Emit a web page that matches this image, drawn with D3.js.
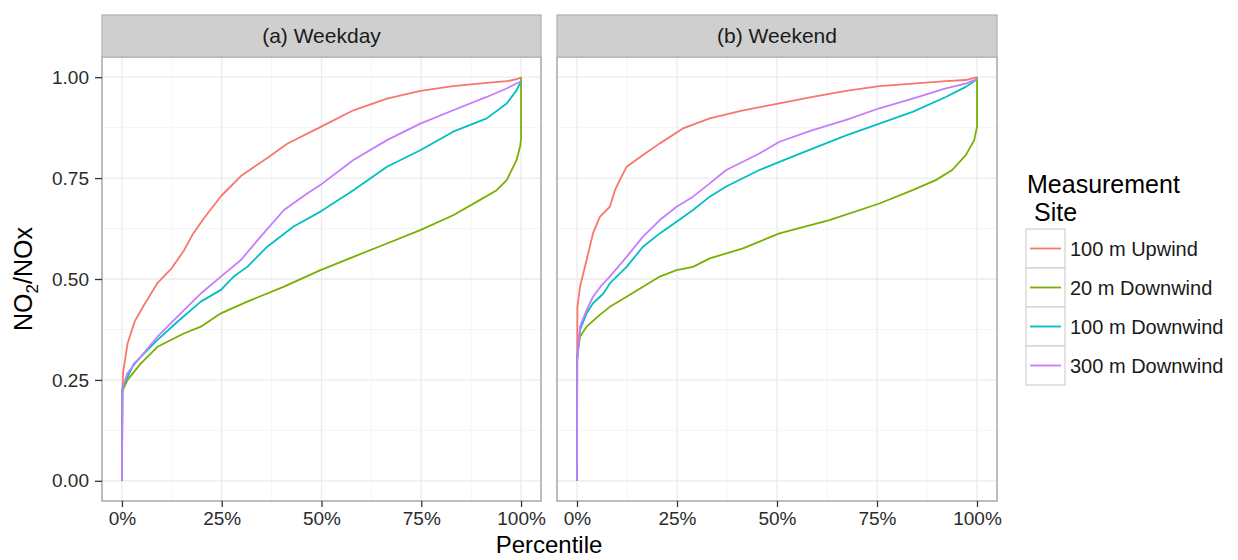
<!DOCTYPE html>
<html>
<head>
<meta charset="utf-8">
<script src="https://cdn.jsdelivr.net/npm/d3@7"></script>
<style>
  body { margin: 0; background: #fff; }
  text { font-family: "Liberation Sans", Arial, sans-serif; }
</style>
</head>
<body>
<script>
// sites and colours (ggplot default hues)
const sites = ["100 m Upwind", "20 m Downwind", "100 m Downwind", "300 m Downwind"];
const colors = ["#F8766D", "#7CAE00", "#00BFC4", "#C77CFF"];
const panelTitles = ["(a) Weekday", "(b) Weekend"];
const yTicks = [0, 0.25, 0.5, 0.75, 1];
const xTicks = [0, 0.25, 0.5, 0.75, 1];

// [percentile, NO2/NOx]
const wkdUpwind = [[0,0],[0.001,0.22],[0.003,0.27],[0.014,0.34],[0.032,0.395],[0.052,0.43],[0.089,0.49],[0.123,0.525],[0.155,0.57],[0.177,0.61],[0.205,0.65],[0.248,0.705],[0.298,0.755],[0.364,0.80],[0.414,0.835],[0.498,0.877],[0.58,0.918],[0.664,0.947],[0.748,0.966],[0.83,0.978],[0.914,0.986],[0.964,0.99],[0.99,0.995],[1,1]];
const wkd20 = [[0,0],[0.001,0.22],[0.002,0.225],[0.014,0.25],[0.0475,0.291],[0.089,0.332],[0.155,0.365],[0.1975,0.382],[0.248,0.415],[0.314,0.444],[0.406,0.481],[0.4975,0.522],[0.58,0.555],[0.664,0.588],[0.7475,0.621],[0.83,0.658],[0.8975,0.696],[0.939,0.72],[0.964,0.745],[0.989,0.795],[0.998,0.83],[1,0.85],[1,1]];
const wkd100 = [[0,0],[0.001,0.22],[0.002,0.233],[0.03,0.29],[0.089,0.349],[0.139,0.394],[0.1975,0.444],[0.248,0.473],[0.28,0.506],[0.314,0.53],[0.364,0.58],[0.43,0.63],[0.4975,0.667],[0.58,0.72],[0.664,0.778],[0.7475,0.819],[0.83,0.865],[0.914,0.898],[0.964,0.935],[0.989,0.968],[1,0.99]];
const wkd300 = [[0,0],[0.001,0.22],[0.002,0.233],[0.014,0.267],[0.0475,0.308],[0.089,0.357],[0.139,0.407],[0.1975,0.464],[0.248,0.506],[0.298,0.547],[0.3475,0.605],[0.406,0.671],[0.464,0.712],[0.50,0.735],[0.58,0.795],[0.664,0.844],[0.7475,0.885],[0.83,0.918],[0.914,0.951],[0.964,0.972],[1,0.99]];

const wkeUpwind = [[0,0],[0,0.30],[0.0005,0.33],[0.001,0.431],[0.0075,0.481],[0.024,0.547],[0.04,0.613],[0.057,0.654],[0.082,0.679],[0.095,0.72],[0.107,0.745],[0.124,0.778],[0.165,0.807],[0.207,0.836],[0.265,0.873],[0.332,0.898],[0.415,0.918],[0.506,0.935],[0.589,0.951],[0.673,0.966],[0.756,0.978],[0.839,0.984],[0.922,0.99],[0.972,0.993],[1,1]];
const wke20 = [[0,0],[0.0005,0.30],[0.002,0.317],[0.0075,0.357],[0.024,0.382],[0.057,0.411],[0.082,0.431],[0.124,0.456],[0.165,0.481],[0.207,0.506],[0.249,0.522],[0.29,0.53],[0.332,0.551],[0.415,0.576],[0.506,0.613],[0.631,0.646],[0.756,0.687],[0.839,0.72],[0.897,0.745],[0.938,0.77],[0.972,0.807],[0.993,0.844],[1,0.877],[1,1]];
const wke100 = [[0,0],[0.0005,0.30],[0.0075,0.374],[0.024,0.415],[0.04,0.44],[0.066,0.464],[0.082,0.489],[0.124,0.53],[0.165,0.58],[0.207,0.613],[0.249,0.642],[0.29,0.671],[0.332,0.704],[0.373,0.729],[0.456,0.77],[0.506,0.79],[0.589,0.823],[0.673,0.856],[0.756,0.885],[0.839,0.914],[0.922,0.951],[0.972,0.976],[1,0.995]];
const wke300 = [[0,0],[0.0005,0.30],[0.0075,0.382],[0.024,0.423],[0.04,0.456],[0.062,0.485],[0.082,0.506],[0.124,0.555],[0.165,0.605],[0.207,0.646],[0.249,0.679],[0.29,0.704],[0.332,0.737],[0.373,0.77],[0.456,0.811],[0.506,0.84],[0.589,0.869],[0.673,0.894],[0.756,0.923],[0.839,0.947],[0.922,0.972],[0.972,0.984],[1,0.995]];

const panelData = [
  [wkdUpwind, wkd20, wkd100, wkd300],
  [wkeUpwind, wke20, wke100, wke300]
];

const W = 1238, H = 560;
const svg = d3.select("body").append("svg").attr("width", W).attr("height", H);

const panelX = [[102, 541], [557, 997]];
const panelTop = 57, panelBottom = 501, stripTop = 15;

const y = d3.scaleLinear().domain([-0.05, 1.05]).range([panelBottom, panelTop]);
const line = (x) => d3.line().x(d => x(d[0])).y(d => y(d[1]));

panelData.forEach((series, pi) => {
  const [left, right] = panelX[pi];
  const x = d3.scaleLinear().domain([-0.05, 1.05]).range([left, right]);
  const g = svg.append("g");

  // grid
  const minor = [0.125, 0.375, 0.625, 0.875];
  g.selectAll(".ymin").data(minor).join("line")
    .attr("x1", left).attr("x2", right).attr("y1", d => y(d)).attr("y2", d => y(d))
    .attr("stroke", "#f2f2f2").attr("stroke-width", 0.8);
  g.selectAll(".xmin").data(minor).join("line")
    .attr("y1", panelTop).attr("y2", panelBottom).attr("x1", d => x(d)).attr("x2", d => x(d))
    .attr("stroke", "#f2f2f2").attr("stroke-width", 0.8);
  g.selectAll(".ymaj").data(yTicks).join("line")
    .attr("x1", left).attr("x2", right).attr("y1", d => y(d)).attr("y2", d => y(d))
    .attr("stroke", "#ebebeb").attr("stroke-width", 1.3);
  g.selectAll(".xmaj").data(xTicks).join("line")
    .attr("y1", panelTop).attr("y2", panelBottom).attr("x1", d => x(d)).attr("x2", d => x(d))
    .attr("stroke", "#ebebeb").attr("stroke-width", 1.3);

  // curves
  const clipId = "clip" + pi;
  svg.append("clipPath").attr("id", clipId).append("rect")
    .attr("x", left).attr("y", panelTop).attr("width", right - left).attr("height", panelBottom - panelTop);
  g.append("g").attr("clip-path", `url(#${clipId})`)
    .selectAll("path").data(series).join("path")
    .attr("d", d => line(x)(d))
    .attr("fill", "none")
    .attr("stroke", (d, i) => colors[i])
    .attr("stroke-width", 1.8)
    .attr("stroke-linejoin", "round");

  // panel border
  g.append("rect").attr("x", left).attr("y", panelTop)
    .attr("width", right - left).attr("height", panelBottom - panelTop)
    .attr("fill", "none").attr("stroke", "#9a9a9a").attr("stroke-width", 1.3);

  // strip
  g.append("rect").attr("x", left).attr("y", stripTop)
    .attr("width", right - left).attr("height", panelTop - stripTop)
    .attr("fill", "#cfcfcf").attr("stroke", "#b5b5b5").attr("stroke-width", 1.3);
  g.append("text").attr("x", (left + right) / 2).attr("y", 43)
    .attr("text-anchor", "middle").attr("font-size", 21).attr("fill", "#1a1a1a")
    .text(panelTitles[pi]);

  // x axis
  const xa = g.append("g").attr("transform", `translate(0,${panelBottom})`)
    .call(d3.axisBottom(x).tickValues(xTicks).tickSize(6).tickPadding(5).tickFormat(d3.format(".0%")));
  xa.select(".domain").remove();
  xa.selectAll("line").attr("stroke", "#333").attr("stroke-width", 1.3);
  xa.selectAll("text").attr("font-size", 19).attr("fill", "#2b2b2b").attr("font-family", "Liberation Sans, Arial, sans-serif");

  if (pi === 0) {
    const ya = g.append("g").attr("transform", `translate(${left},0)`)
      .call(d3.axisLeft(y).tickValues(yTicks).tickSize(7).tickPadding(6).tickFormat(d3.format(".2f")));
    ya.select(".domain").remove();
    ya.selectAll("line").attr("stroke", "#333").attr("stroke-width", 1.3);
    ya.selectAll("text").attr("font-size", 19).attr("fill", "#2b2b2b").attr("font-family", "Liberation Sans, Arial, sans-serif");
  }
});

// axis titles
svg.append("text").attr("x", 549).attr("y", 553).attr("text-anchor", "middle")
  .attr("font-size", 24).attr("fill", "#000").text("Percentile");
const yt = svg.append("text").attr("transform", `translate(32,${(panelTop + panelBottom) / 2}) rotate(-90)`)
  .attr("text-anchor", "middle").attr("font-size", 25).attr("fill", "#000");
yt.append("tspan").text("NO");
yt.append("tspan").attr("font-size", 17).attr("dy", 6).text("2");
yt.append("tspan").attr("dy", -6).text("/NOx");

// legend
const lg = svg.append("g");
lg.append("text").attr("x", 1027).attr("y", 193).attr("font-size", 25).attr("fill", "#000").text("Measurement");
lg.append("text").attr("x", 1034).attr("y", 221).attr("font-size", 25).attr("fill", "#000").text("Site");
const keyTop = 229, keyH = 39, keyX = 1026, keyW = 39;
const rows = lg.selectAll(".row").data(sites).join("g")
  .attr("transform", (d, i) => `translate(0,${keyTop + i * keyH})`);
rows.append("rect").attr("x", keyX).attr("y", 0).attr("width", keyW).attr("height", keyH)
  .attr("fill", "#fff").attr("stroke", "#d0d0d0").attr("stroke-width", 1.2);
rows.append("line").attr("x1", keyX + 4).attr("x2", keyX + keyW - 4)
  .attr("y1", keyH / 2).attr("y2", keyH / 2)
  .attr("stroke", (d, i) => colors[i]).attr("stroke-width", 1.8);
rows.append("text").attr("x", 1070).attr("y", keyH / 2 + 7)
  .attr("font-size", 20).attr("fill", "#1a1a1a").text(d => d);
</script>
</body>
</html>
